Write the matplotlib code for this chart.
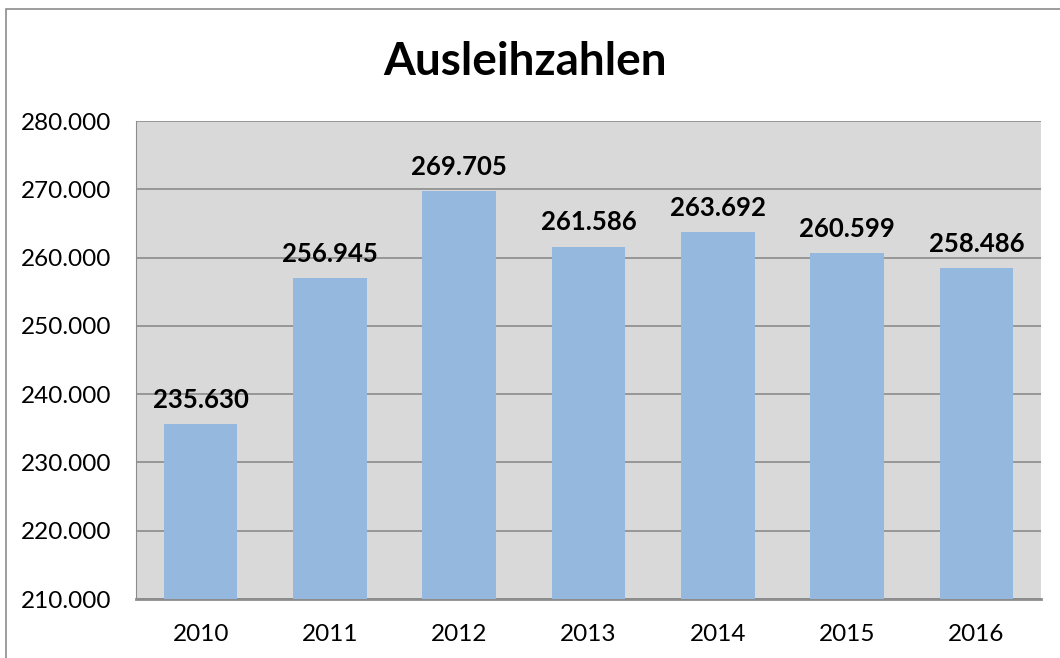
import matplotlib.pyplot as plt
from matplotlib.patches import Rectangle

years = ['2010', '2011', '2012', '2013', '2014', '2015', '2016']
loans = [235630, 256945, 269705, 261586, 263692, 260599, 258486]
y_ticks = [210000, 220000, 230000, 240000, 250000, 260000, 270000, 280000]


def fmt(v):
    # German thousands separator
    return f'{v:,}'.replace(',', '.')


plt.rcParams['font.family'] = ['Lato', 'DejaVu Sans']

fig = plt.figure(figsize=(10.6, 6.58), dpi=100)
ax = fig.add_axes([136 / 1060, 1 - 599 / 658, 905 / 1060, 478 / 658])

ax.set_facecolor('#d9d9d9')
x = range(len(years))
ax.bar(x, loans, width=0.57, color='#95b8de', zorder=3)

for i, v in enumerate(loans):
    ax.text(i, v + 1800, fmt(v), ha='center', va='bottom',
            fontsize=18.5, fontweight='bold', zorder=4)

ax.set_ylim(210000, 280000)
ax.set_xlim(-0.5, len(years) - 0.5)
ax.set_yticks(y_ticks)
ax.set_yticklabels([fmt(t) for t in y_ticks])
ax.set_xticks(list(x))
ax.set_xticklabels(years)
ax.tick_params(axis='both', length=0, labelsize=17.5)
ax.tick_params(axis='x', pad=18)
ax.tick_params(axis='y', pad=18)
ax.yaxis.grid(True, color='#8c8c8c', linewidth=1.2, zorder=1)
ax.set_axisbelow(True)
for s in ['top', 'right']:
    ax.spines[s].set_visible(False)
ax.spines['left'].set_color('#8c8c8c')
ax.spines['bottom'].set_color('#8c8c8c')
ax.spines['bottom'].set_linewidth(2)

fig.text(525 / 1060, 1 - 62 / 658, 'Ausleihzahlen', ha='center', va='center',
         fontsize=33, fontweight='bold')

fig.patches.append(Rectangle((6 / 1060, -0.01), 1.1, 1 - 9 / 658 + 0.01,
                             transform=fig.transFigure, fill=False,
                             edgecolor='#8c8c8c', linewidth=1.2))

fig.savefig('out.png', dpi=100)
